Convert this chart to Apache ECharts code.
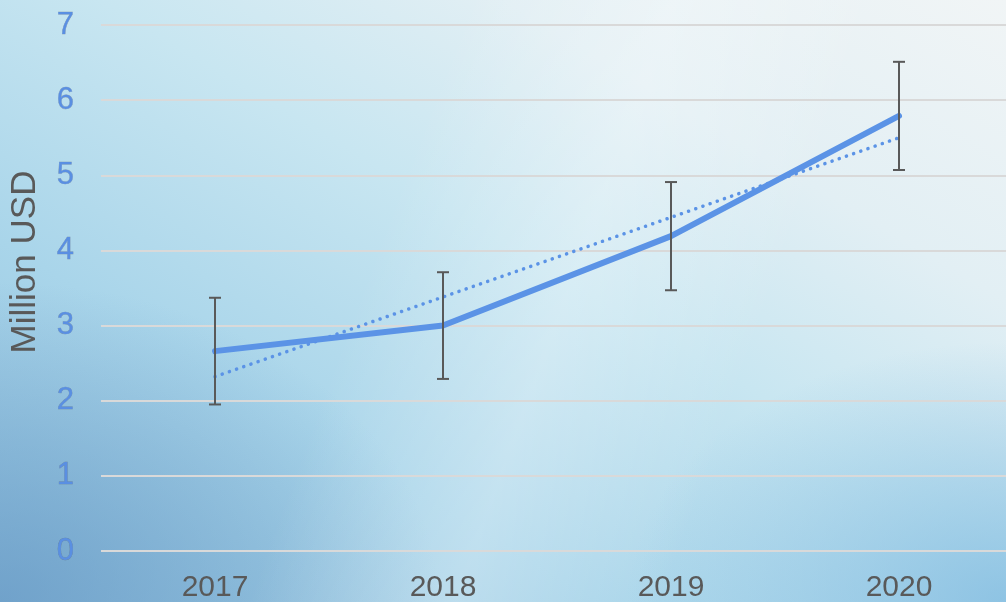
<!DOCTYPE html>
<html>
<head>
<meta charset="utf-8">
<script src="https://cdn.jsdelivr.net/npm/echarts@6/dist/echarts.min.js"></script>
<style>
	html, body { margin: 0; padding: 0; }
	body {
		width: 1006px; height: 602px; overflow: hidden;
		background:
			linear-gradient(110deg, rgba(255,255,255,0) 38%, rgba(255,255,255,0.28) 55%, rgba(255,255,255,0) 72%),
			radial-gradient(ellipse 380px 260px at 1006px 602px, rgba(120,182,222,0.7), rgba(120,182,222,0) 100%),
			radial-gradient(ellipse 440px 320px at 0px 602px, rgba(100,150,195,0.7), rgba(100,150,195,0) 100%),
			linear-gradient(to top right, #8dbedc 0%, #a9d5ea 30%, #c8e6f1 55%, #e2eff4 75%, #f1f5f6 100%);
	}
	#main { width: 1006px; height: 602px; }
</style>
</head>
<body>
<div id="main"></div>
<script>
var years = ['2017', '2018', '2019', '2020'];
var revenue = [2.66, 3.0, 4.19, 5.79];
var errAmount = [0.71, 0.71, 0.72, 0.72];
var trend = [2.32, 3.38, 4.44, 5.5];
var yTicks = [0, 1, 2, 3, 4, 5, 6, 7];

var errData = revenue.map(function (v, i) {
	return [i, v - errAmount[i], v + errAmount[i]];
});

var chart = echarts.init(document.getElementById('main'));

chart.setOption({
	backgroundColor: 'transparent',
	animation: false,
	grid: {
		left: 101,
		top: 25,
		width: 912,
		height: 526,
		outerBoundsMode: 'none',
		containLabel: false
	},
	xAxis: {
		type: 'category',
		data: years,
		boundaryGap: true,
		axisLine: { show: false },
		axisTick: { show: false },
		axisLabel: {
			color: '#595959',
			fontSize: 30,
			fontFamily: 'Liberation Sans',
			margin: 22
		}
	},
	yAxis: {
		type: 'value',
		min: 0,
		max: 7,
		interval: 1,
		name: 'Million USD',
		nameLocation: 'middle',
		nameGap: 58,
		nameTextStyle: {
			color: '#595959',
			fontSize: 35,
			fontFamily: 'Liberation Sans',
			padding: [0, 0, 0, 52]
		},
		axisLine: { show: false },
		axisTick: { show: false },
		splitLine: { lineStyle: { color: '#d9d9d9', width: 2 } },
		axisLabel: {
			color: '#5a8fe2',
			fontSize: 31,
			fontFamily: 'Liberation Sans',
			margin: 27,
			textBorderColor: 'rgba(70,70,90,0.45)',
			textBorderWidth: 0.5,
			formatter: function (v) { return yTicks.indexOf(v) >= 0 ? String(v) : ''; }
		}
	},
	series: [{
		name: 'Trend',
		type: 'line',
		data: trend,
		symbol: 'none',
		lineStyle: { color: '#5b93e6', width: 3.5, type: [0.1, 7.5], cap: 'round' },
		z: 2
	}, {
		name: 'Revenue',
		type: 'line',
		data: revenue,
		symbol: 'none',
		lineStyle: { color: '#5b93e6', width: 6, cap: 'round', join: 'round' },
		z: 3
	}, {
		name: 'Error',
		type: 'custom',
		data: errData,
		renderItem: function (params, api) {
			var lo = api.coord([api.value(0), api.value(1)]);
			var hi = api.coord([api.value(0), api.value(2)]);
			var cap = 6;
			var style = { stroke: '#595959', lineWidth: 2 };
			return {
				type: 'group',
				children: [
					{ type: 'line', shape: { x1: lo[0], y1: lo[1], x2: hi[0], y2: hi[1] }, style: style },
					{ type: 'line', shape: { x1: lo[0] - cap, y1: lo[1], x2: lo[0] + cap, y2: lo[1] }, style: style },
					{ type: 'line', shape: { x1: hi[0] - cap, y1: hi[1], x2: hi[0] + cap, y2: hi[1] }, style: style }
				]
			};
		},
		z: 4
	}]
});
</script>
</body>
</html>
